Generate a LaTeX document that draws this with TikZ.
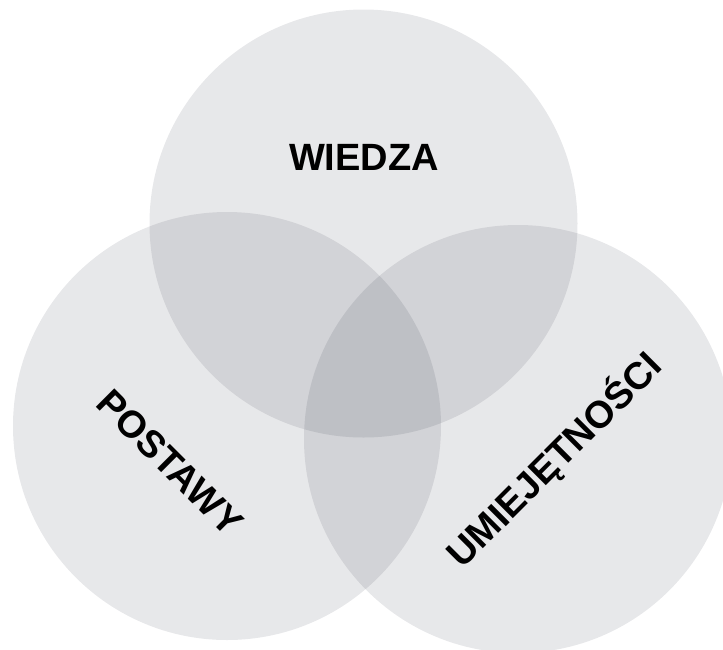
\documentclass[tikz,border=0pt]{standalone}
\usepackage{fontspec}
\setmainfont{Liberation Sans}
\usepackage{tikz}
\usetikzlibrary{positioning}
\definecolor{venngray}{RGB}{20,25,45}

\begin{document}
\begin{tikzpicture}[
      x=1pt, y=-1pt,
      sphere/.style={circle, minimum size=428pt, inner sep=0pt, fill=venngray, fill opacity=0.1},
      area/.style={font=\fontsize{38}{42}\selectfont\bfseries, text=black, inner sep=0pt}]
    \clip (0,0) rectangle (723,649);
    % the three spheres
    \node[sphere] (wiedza)      at (363.5,223.5) {};
    \node[sphere] (postawy)     at (227,426) {};
    \node[sphere] (umiejetnosci) at (518,439) {};
    % their names
    \node[area] (wiedzaname) at (364,157.5) {WIEDZA};
    \node[area, rotate=-45] (postawyname) at (170,462.5) {POSTAWY};
    \node[area, rotate=45] (umiejetnosciname) at (554,460) {UMIEJĘTNOŚCI};
  \end{tikzpicture}
\end{document}
